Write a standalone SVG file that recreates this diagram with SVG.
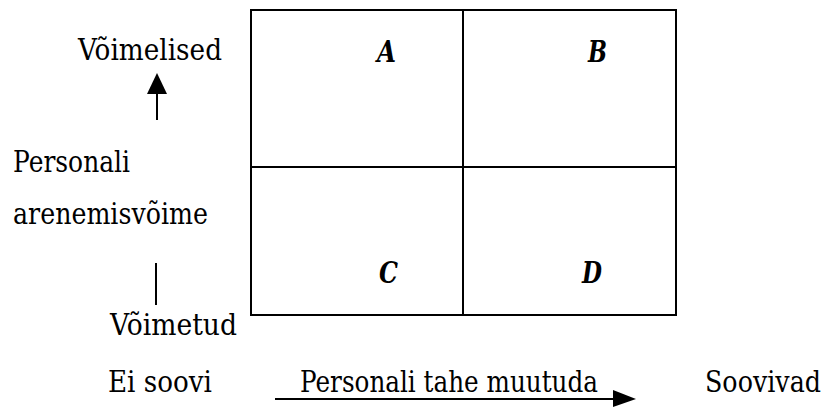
<svg xmlns="http://www.w3.org/2000/svg" width="829" height="407" viewBox="0 0 829 407">
<style>
text{font-family:"DejaVu Serif",serif;font-size:30px;fill:#000}
.cell{font-weight:bold;font-style:italic}
.grid{fill:none;stroke:#000;stroke-width:2}
.ln{stroke:#000;stroke-width:2;fill:none}
.ah{fill:#000}
</style>
<rect width="829" height="407" fill="#fff"/>
<g id="matrix">
<rect class="grid" x="251" y="10" width="425" height="305"/>
<line class="ln" x1="463" y1="10" x2="463" y2="315"/>
<line class="ln" x1="251" y1="167" x2="676" y2="167"/>
</g>
<g id="cellA"><text class="cell" x="377" y="62" textLength="19" lengthAdjust="spacingAndGlyphs">A</text></g>
<g id="cellB"><text class="cell" x="588" y="62" textLength="19" lengthAdjust="spacingAndGlyphs">B</text></g>
<g id="cellC"><text class="cell" x="379" y="283" textLength="19" lengthAdjust="spacingAndGlyphs">C</text></g>
<g id="cellD"><text class="cell" x="582" y="283" textLength="20" lengthAdjust="spacingAndGlyphs">D</text></g>
<g id="labels">
<text x="78" y="60" textLength="144" lengthAdjust="spacingAndGlyphs">Võimelised</text>
<text x="13" y="172" textLength="117" lengthAdjust="spacingAndGlyphs">Personali</text>
<text x="13" y="224" textLength="195" lengthAdjust="spacingAndGlyphs">arenemisvõime</text>
<text x="110" y="335" textLength="127" lengthAdjust="spacingAndGlyphs">Võimetud</text>
<text x="108" y="392" textLength="104" lengthAdjust="spacingAndGlyphs">Ei soovi</text>
<text x="300" y="392" textLength="298" lengthAdjust="spacingAndGlyphs">Personali tahe muutuda</text>
<text x="705" y="392" textLength="116" lengthAdjust="spacingAndGlyphs">Soovivad</text>
</g>
<g id="connectors">
<line class="ln" x1="157" y1="92" x2="157" y2="120"/>
<polygon class="ah" points="157,73 147,94 167,94"/>
<line class="ln" x1="156" y1="263" x2="156" y2="305"/>
<line class="ln" x1="275" y1="399" x2="615" y2="399"/>
<polygon class="ah" points="636,399 613,390 613,407"/>
</g>
</svg>
